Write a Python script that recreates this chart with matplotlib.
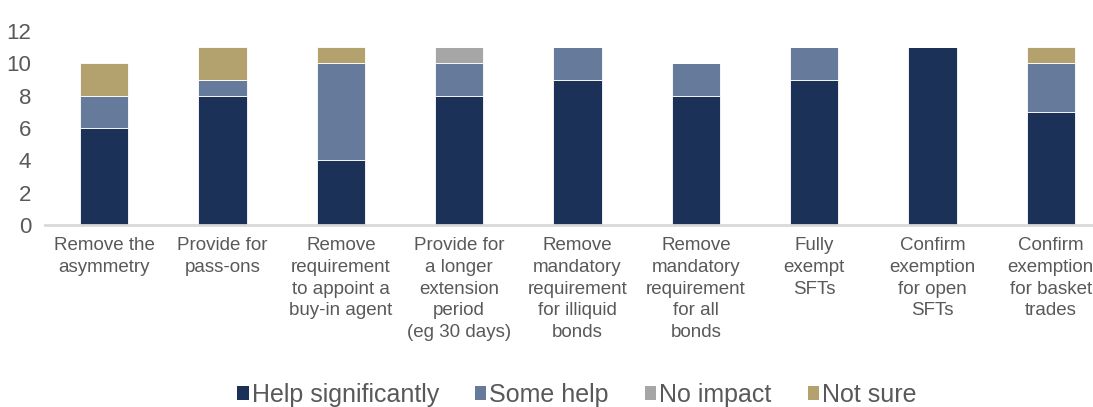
import matplotlib
matplotlib.use("Agg")
import matplotlib.pyplot as plt
import numpy as np
from matplotlib.patches import Patch

categories = [
    "Remove the\nasymmetry",
    "Provide for\npass-ons",
    "Remove\nrequirement\nto appoint a\nbuy-in agent",
    "Provide for\na longer\nextension\nperiod\n(eg 30 days)",
    "Remove\nmandatory\nrequirement\nfor illiquid\nbonds",
    "Remove\nmandatory\nrequirement\nfor all\nbonds",
    "Fully\nexempt\nSFTs",
    "Confirm\nexemption\nfor open\nSFTs",
    "Confirm\nexemption\nfor basket\ntrades",
]
help_significantly = [6, 8, 4, 8, 9, 8, 9, 11, 7]
some_help = [2, 1, 6, 2, 2, 2, 2, 0, 3]
no_impact = [0, 0, 0, 1, 0, 0, 0, 0, 0]
not_sure = [2, 2, 1, 0, 0, 0, 0, 0, 1]
series_names = ["Help significantly", "Some help", "No impact", "Not sure"]
colors = ["#1c3157", "#667a9c", "#a6a6a6", "#b3a26e"]

plt.rcParams['font.family'] = ['Liberation Sans', 'DejaVu Sans']
text_color = "#595959"

fig = plt.figure(figsize=(10.93, 4.07), dpi=100)
W, H = 1093, 407
x0, x1 = 45, 1110
y0, y1 = 225, 31
ax = fig.add_axes([x0 / W, (H - y0) / H, (x1 - x0) / W, (y0 - y1) / H])

x = np.arange(len(categories))
bottom = np.zeros(len(categories))
for vals, name, c in zip([help_significantly, some_help, no_impact, not_sure], series_names, colors):
    v = np.array(vals, dtype=float)
    ax.bar(x, v, width=0.41, bottom=bottom, color=c, edgecolor="white", linewidth=0.6, label=name, zorder=2)
    bottom += v

ax.set_xlim(-0.5, len(categories) - 0.5)
ax.set_ylim(0, 12)
ax.set_yticks([0, 2, 4, 6, 8, 10, 12])
ax.tick_params(axis='y', length=0, labelsize=16, labelcolor=text_color, pad=10)
ax.set_xticks(x)
ax.set_xticklabels(categories, fontsize=13.5, color=text_color, linespacing=1.35, va='top')
ax.tick_params(axis='x', length=0, pad=9)
for s in ["top", "right", "left"]:
    ax.spines[s].set_visible(False)
ax.spines["bottom"].set_color("#d9d9d9")
ax.spines["bottom"].set_linewidth(2)
ax.spines["bottom"].set_zorder(3)

handles = [Patch(facecolor=c, edgecolor='none') for c in colors]
fig.legend(handles, series_names, loc='center', bbox_to_anchor=(577 / W, 1 - 395 / H),
           ncol=4, frameon=False, fontsize=18, labelcolor=text_color,
           handlelength=0.45, handleheight=0.45, handletextpad=0.12, columnspacing=1.45)

fig.savefig("out.png", dpi=100)
